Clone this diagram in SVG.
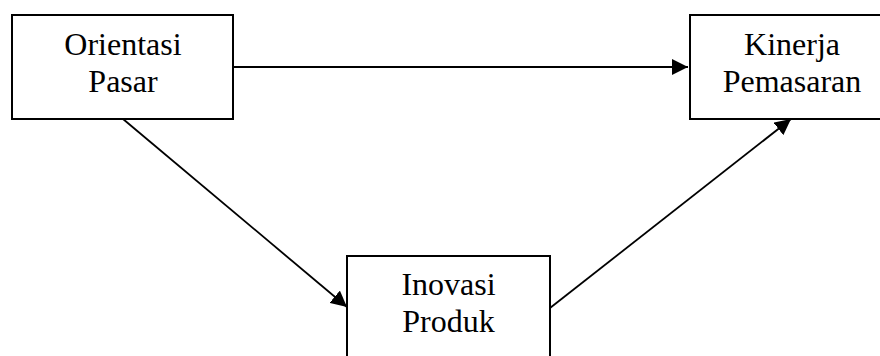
<svg xmlns="http://www.w3.org/2000/svg" width="880" height="356" viewBox="0 0 880 356">
<style>
.box{fill:#fff;stroke:#000;stroke-width:2}
.lbl{font-family:"Liberation Serif","Times New Roman",serif;font-size:32px;fill:#000;text-anchor:middle}
.edge{stroke:#000;stroke-width:1.8;fill:none;marker-end:url(#ah)}
</style>
<defs>
<marker id="ah" markerUnits="userSpaceOnUse" markerWidth="17" markerHeight="16" refX="16" refY="8" orient="auto">
<path d="M0,0 L16,8 L0,16 z" fill="#000"/>
</marker>
</defs>
<rect width="880" height="356" fill="#fff"/>
<g id="connectors">
<line class="edge" x1="233" y1="67" x2="688" y2="67"/>
<line class="edge" x1="123" y1="119" x2="347" y2="307"/>
<line class="edge" x1="550" y1="308" x2="791" y2="119"/>
</g>
<g id="orientasi-pasar">
<rect class="box" x="12" y="15" width="221" height="104"/>
<text class="lbl" x="123" y="55">Orientasi</text>
<text class="lbl" x="123" y="92">Pasar</text>
</g>
<g id="kinerja-pemasaran">
<rect class="box" x="690" y="15" width="204" height="104"/>
<text class="lbl" x="792" y="55">Kinerja</text>
<text class="lbl" x="792" y="92">Pemasaran</text>
</g>
<g id="inovasi-produk">
<rect class="box" x="347" y="256" width="203" height="120"/>
<text class="lbl" x="448.5" y="295">Inovasi</text>
<text class="lbl" x="448.5" y="332">Produk</text>
</g>
</svg>
